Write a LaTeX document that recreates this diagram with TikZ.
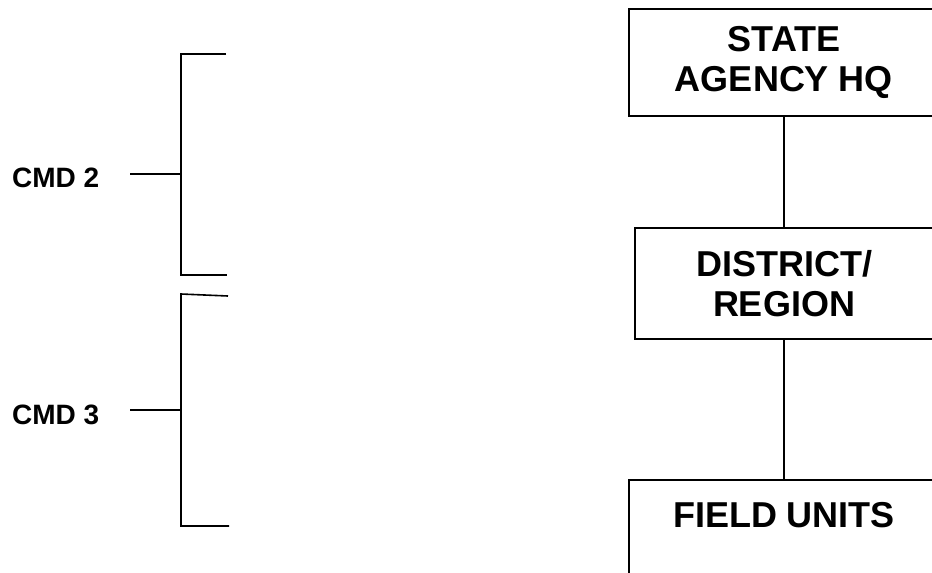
\documentclass[tikz,border=0pt]{standalone}
\usepackage{fontspec}
\setmainfont{Liberation Sans}
\tikzset{
  orgbox/.style={draw=black, line width=1.6pt, anchor=north, align=center,
    font=\fontsize{36}{40}\selectfont\bfseries, inner sep=0pt},
  conn/.style={draw=black, line width=1.6pt},
  brack/.style={draw=black, line width=1.6pt},
  tick/.style={draw=black, line width=1.3pt},
  cmdlabel/.style={anchor=base west, inner sep=0pt, font=\fontsize{28}{30}\selectfont\bfseries}
}
\begin{document}
\begin{tikzpicture}[x=1pt,y=-1pt]
\useasboundingbox (0,0) rectangle (932,573);
\clip (0,0) rectangle (932,573);
\fill[white] (0,0) rectangle (932,573);
% boxes
\node[orgbox, minimum width=310pt, minimum height=107pt] (hq) at (784,8) {STATE\\AGENCY HQ};
\node[orgbox, minimum width=298pt, minimum height=111pt] (dist) at (784,227) {DISTRICT/\\REGION};
\node[orgbox, minimum width=310pt, minimum height=110pt] (field) at (784,479) {FIELD UNITS\\\mbox{}};
\draw[conn] (hq.south) -- (dist.north);
\draw[conn] (dist.south) -- (field.north);
% labels
\node[cmdlabel] (cmd2) at (12,187) {CMD 2};
\node[cmdlabel] (cmd3) at (12,424) {CMD 3};
% bracket 1
\coordinate (b1t) at (226,54);
\coordinate (b1tl) at (181,54);
\coordinate (b1bl) at (181,275);
\coordinate (b1b) at (227,275);
\coordinate (b1m) at (181,174);
\coordinate (t1) at (130,174);
\draw[brack] (b1t) -- (b1tl) -- (b1bl) -- (b1b);
\draw[tick] (t1) -- (b1m);
% bracket 2
\coordinate (b2t) at (228,296);
\coordinate (b2tl) at (181,294);
\coordinate (b2bl) at (181,526);
\coordinate (b2b) at (229,526);
\coordinate (b2m) at (181,410);
\coordinate (t2) at (130,410);
\draw[brack] (b2t) -- (b2tl) -- (b2bl) -- (b2b);
\draw[tick] (t2) -- (b2m);
\end{tikzpicture}
\end{document}
